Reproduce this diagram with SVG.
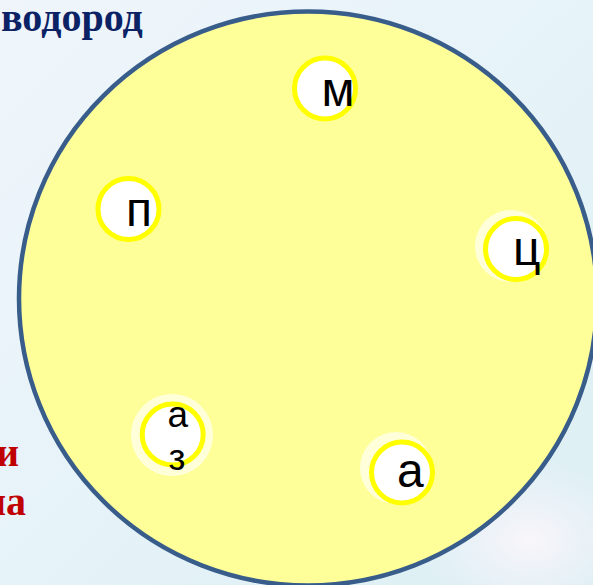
<svg xmlns="http://www.w3.org/2000/svg" width="593" height="585" viewBox="0 0 593 585">
  <defs>
    <linearGradient id="bg" x1="0" y1="0" x2="1" y2="1">
      <stop offset="0" stop-color="#EFF5FB"/>
      <stop offset="0.5" stop-color="#E6F3F8"/>
      <stop offset="1" stop-color="#DCEFF3"/>
    </linearGradient>
    <radialGradient id="glow" cx="0.5" cy="0.5" r="0.5">
      <stop offset="0" stop-color="#FAF6FB" stop-opacity="0.95"/>
      <stop offset="1" stop-color="#F4F2FA" stop-opacity="0"/>
    </radialGradient>
    <style>
      .big { fill: #FFFF99; stroke: #385D8A; stroke-width: 4.5; }
      .ring { fill: #FFFFFF; stroke: #FFFF00; stroke-width: 5; }
      .halo { fill: #FFFFF0; fill-opacity: 0.75; }
      .lbl { font-family: "Liberation Sans", Arial, sans-serif; fill: #000000; }
      .title { font-family: "Liberation Serif", "Times New Roman", serif; font-weight: bold; font-size: 40px; }
    </style>
  </defs>

  <rect x="0" y="0" width="593" height="585" fill="url(#bg)"/>
  <ellipse cx="530" cy="540" rx="110" ry="80" fill="url(#glow)"/>

  <text class="title" x="1" y="30.5" fill="#0B2265">водород</text>
  <text class="title" x="19" y="465.5" fill="#C00000" text-anchor="end">и</text>
  <text class="title" x="26" y="515" fill="#C00000" text-anchor="end">на</text>

  <ellipse id="big-circle" class="big" cx="308" cy="298.5" rx="289" ry="287"/>

  <g id="connectors"/>

  <g id="node-m">
    <circle class="ring" cx="325" cy="88.5" r="30.5"/>
    <text class="lbl" x="321.5" y="106" font-size="48">м</text>
  </g>

  <g id="node-p">
    <circle class="ring" cx="128.5" cy="209" r="30.5"/>
    <text class="lbl" x="126" y="225.5" font-size="48">п</text>
  </g>

  <g id="node-ts">
    <circle class="halo" cx="511" cy="246" r="36"/>
    <circle class="ring" cx="516" cy="249" r="30.5"/>
    <text class="lbl" x="513" y="265" font-size="48">ц</text>
  </g>

  <g id="node-az">
    <circle class="halo" cx="172" cy="435" r="41"/>
    <circle class="ring" cx="172.7" cy="434.5" r="30.5"/>
    <text class="lbl" font-size="37">
      <tspan x="167.5" y="426.5">а</tspan>
      <tspan x="168.5" y="469.5">з</tspan>
    </text>
  </g>

  <g id="node-a">
    <circle class="halo" cx="396" cy="468" r="36"/>
    <circle class="ring" cx="402" cy="472.5" r="30.5"/>
    <text class="lbl" x="397" y="486.5" font-size="48">а</text>
  </g>
</svg>
